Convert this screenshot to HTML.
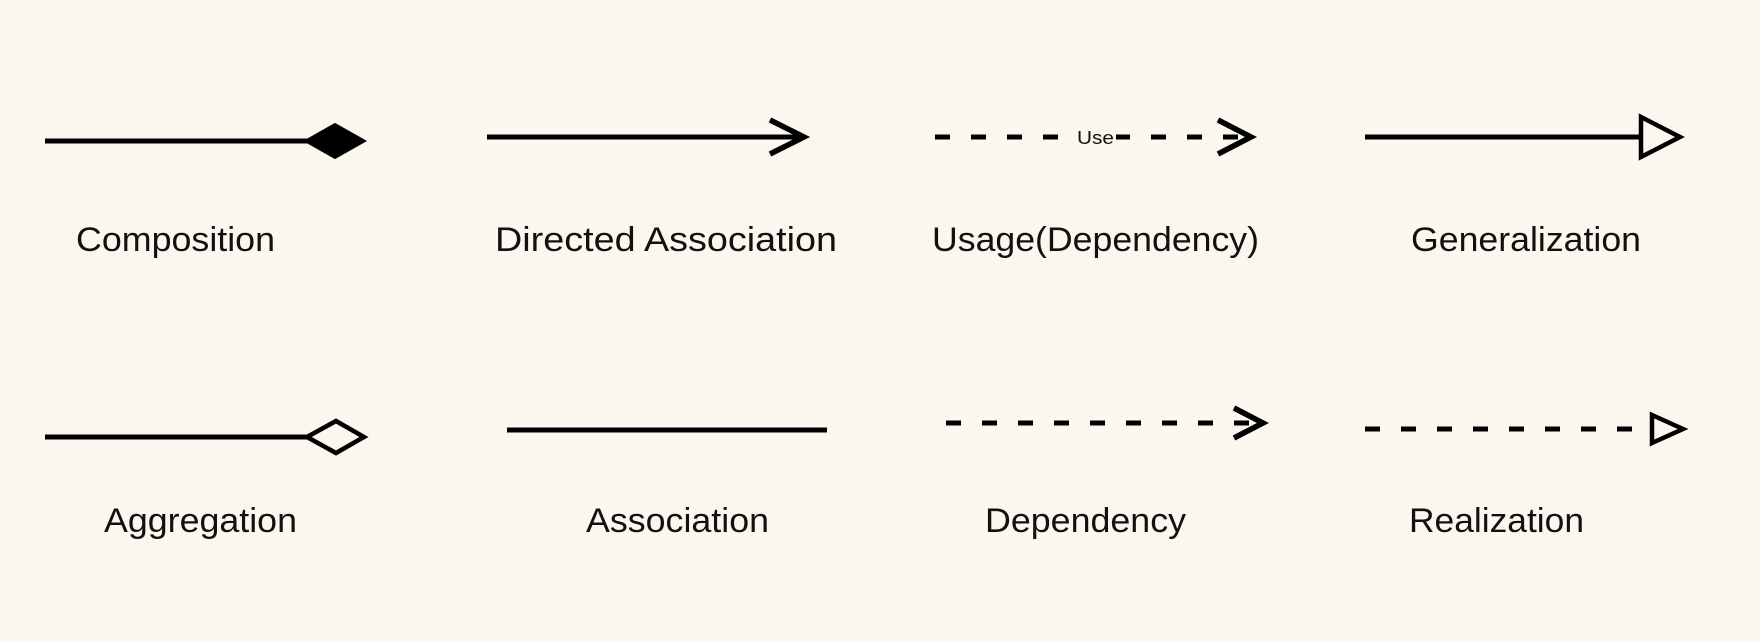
<!DOCTYPE html>
<html><head><meta charset="utf-8"><style>
html,body{margin:0;padding:0;background:#fcf7ee;}
svg{display:block;}
text{font-family:"Liberation Sans",sans-serif;fill:#111;}
</style></head><body>
<svg width="1760" height="642" viewBox="0 0 1760 642" xmlns="http://www.w3.org/2000/svg">
<rect width="1760" height="642" fill="#fcf7ee"/>
<g stroke="#000" stroke-width="5" fill="none">
<line x1="45" y1="141" x2="308" y2="141"/>
<polygon points="305,141 335,124 365,141 335,158" fill="#000" stroke-width="2"/>
<line x1="487" y1="137" x2="803" y2="137"/>
<polyline points="770,120 804,137 770,154" stroke-width="5.5"/>
<line x1="935" y1="137" x2="1250" y2="137" stroke-dasharray="15 21"/>
<polyline points="1218,120 1251,137 1218,154" stroke-width="5.5"/>
<line x1="1365" y1="137" x2="1641" y2="137"/>
<polygon points="1641,117 1680,137 1641,157" stroke-width="4.5"/>
<line x1="45" y1="437" x2="308" y2="437"/>
<polygon points="307,437 336,421 364,437 336,453" fill="#fcf7ee" stroke-width="4.5"/>
<line x1="507" y1="430" x2="827" y2="430"/>
<line x1="946" y1="423" x2="1249" y2="423" stroke-dasharray="15 21"/>
<polyline points="1234,408 1263,423 1234,438" stroke-width="5.5"/>
<line x1="1365" y1="429" x2="1645" y2="429" stroke-dasharray="15 21"/>
<polygon points="1652,415 1683,429 1652,443" stroke-width="4.5"/>
</g>
<rect x="1076" y="126" width="40" height="22" fill="#fcf7ee"/>
<text x="1077" y="144" font-size="18" textLength="37" lengthAdjust="spacingAndGlyphs" fill="#333">Use</text>
<g font-size="34">
<text x="76" y="251" textLength="199" lengthAdjust="spacingAndGlyphs">Composition</text>
<text x="495" y="251" textLength="342" lengthAdjust="spacingAndGlyphs">Directed Association</text>
<text x="932" y="251" textLength="327" lengthAdjust="spacingAndGlyphs">Usage(Dependency)</text>
<text x="1411" y="251" textLength="230" lengthAdjust="spacingAndGlyphs">Generalization</text>
<text x="104" y="532" textLength="193" lengthAdjust="spacingAndGlyphs">Aggregation</text>
<text x="586" y="532" textLength="183" lengthAdjust="spacingAndGlyphs">Association</text>
<text x="985" y="532" textLength="201" lengthAdjust="spacingAndGlyphs">Dependency</text>
<text x="1409" y="532" textLength="175" lengthAdjust="spacingAndGlyphs">Realization</text>
</g>
</svg>
</body></html>
